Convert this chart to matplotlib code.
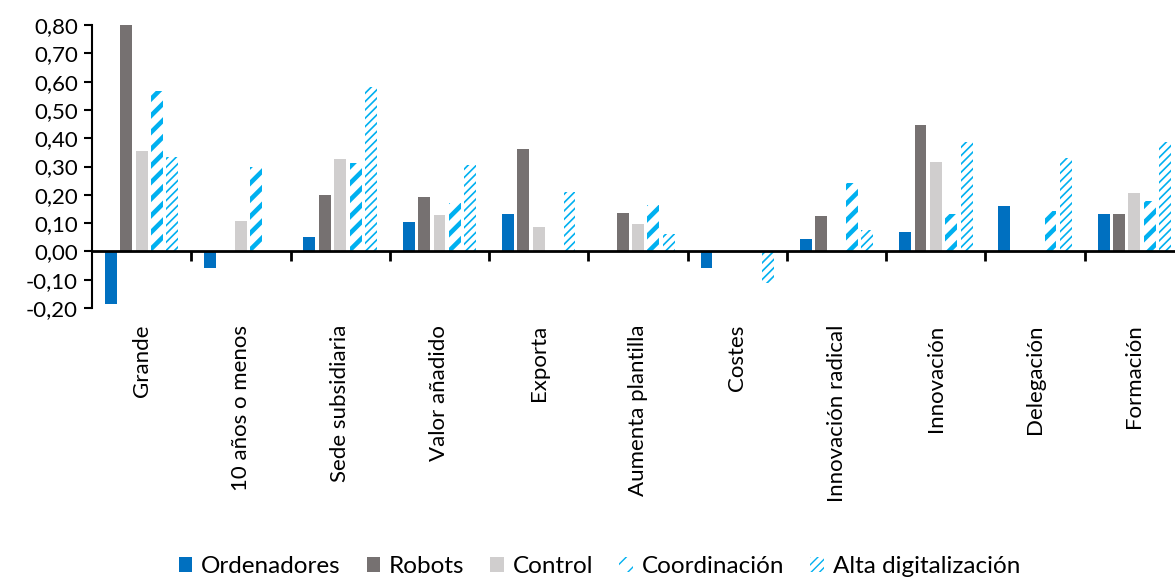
import numpy as np
import matplotlib
matplotlib.use("Agg")
import matplotlib.pyplot as plt

plt.rcParams["font.family"] = ["Lato", "DejaVu Sans"]

categorias = ["Grande", "10 años o menos", "Sede subsidiaria", "Valor añadido",
              "Exporta", "Aumenta plantilla", "Costes", "Innovación radical",
              "Innovación", "Delegación", "Formación"]

ordenadores = [-0.185, -0.06, 0.051, 0.104, 0.131, 0.0, -0.058, 0.044, 0.070, 0.159, 0.131]
robots = [0.80, 0.0, 0.200, 0.191, 0.362, 0.134, 0.0, 0.124, 0.448, 0.0, 0.131]
control = [0.355, 0.106, 0.327, 0.128, 0.087, 0.096, 0.0, 0.0, 0.316, 0.0, 0.206]
coordinacion = [0.566, 0.300, 0.314, 0.171, 0.0, 0.164, 0.0, 0.242, 0.133, 0.143, 0.177]
alta_digital = [0.334, 0.0, 0.580, 0.305, 0.209, 0.060, -0.112, 0.074, 0.388, 0.329, 0.385]

yticks = np.arange(-0.2, 0.81, 0.1)

fig = plt.figure(figsize=(11.75, 5.87), dpi=100)
ax = fig.add_axes([0.0783, 0.4753, 0.9294, 0.4821])

x = np.arange(len(categorias))
paso = 0.155
ancho = 0.12

ax.bar(x - 2 * paso, ordenadores, ancho, color="#0070C0", label="Ordenadores", zorder=2)
ax.bar(x - paso, robots, ancho, color="#767171", label="Robots", zorder=2)
ax.bar(x, control, ancho, color="#D0CECE", label="Control", zorder=2)

with plt.rc_context({"hatch.linewidth": 3.3}):
    ax.bar(x + paso, coordinacion, ancho, facecolor="white", edgecolor="#00B0F0",
           linewidth=0, hatch="//", label="Coordinación", zorder=2)
with plt.rc_context({"hatch.linewidth": 1.2}):
    ax.bar(x + 2 * paso, alta_digital, ancho, facecolor="white", edgecolor="#00B0F0",
           linewidth=0, hatch="////", label="Alta digitalización", zorder=2)

ax.set_xlim(-0.5, len(categorias) - 0.5)
ax.set_ylim(-0.2, 0.8)
ax.set_yticks(yticks)
ax.set_yticklabels([f"{v:.2f}".replace(".", ",") for v in yticks], fontsize=16)

for s in ["top", "right"]:
    ax.spines[s].set_visible(False)
ax.spines["left"].set_linewidth(1.5)
ax.spines["bottom"].set_position(("data", 0))
ax.spines["bottom"].set_linewidth(2)
ax.spines["bottom"].set_zorder(3)
ax.tick_params(axis="y", length=6, width=1.5, pad=4)

# tick marks between categories on the zero line
ax.set_xticks(x[:-1] + 0.5)
ax.set_xticklabels([])
ax.tick_params(axis="x", length=7, width=2, direction="out")

# category names along the bottom of the plot area
sec = ax.secondary_xaxis("bottom")
sec.set_xticks(x)
sec.set_xticklabels(categorias, rotation=90, fontsize=16)
sec.tick_params(length=0, pad=12)
sec.spines["bottom"].set_visible(False)

fig.legend(loc="lower center", bbox_to_anchor=(0.51, -0.02), ncol=5, frameon=False,
           fontsize=17.5, handlelength=0.55, handleheight=0.55, handletextpad=0.37,
           columnspacing=1.07)

fig.savefig("out.png", dpi=100)
